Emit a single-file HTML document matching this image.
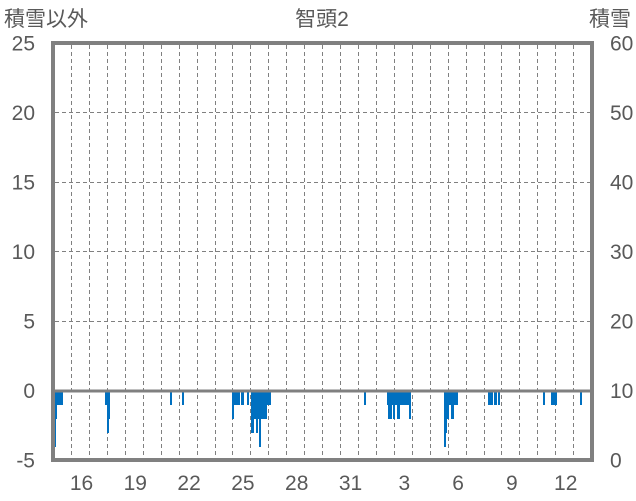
<!DOCTYPE html>
<html><head><meta charset="utf-8"><style>
html,body{margin:0;padding:0;background:#fff;}
svg{display:block;}
text{font-family:"Liberation Sans","Noto Sans CJK JP",sans-serif;fill:#595959;}
</style></head><body>
<svg width="636" height="501" viewBox="0 0 636 501" xmlns="http://www.w3.org/2000/svg">
<rect x="0" y="0" width="636" height="501" fill="#fff"/>
<g stroke="#808080" stroke-width="1" stroke-dasharray="4,3" fill="none">
<line x1="55" x2="590" y1="321.5" y2="321.5"/>
<line x1="55" x2="590" y1="251.5" y2="251.5"/>
<line x1="55" x2="590" y1="182.5" y2="182.5"/>
<line x1="55" x2="590" y1="112.5" y2="112.5"/>
</g>
<g stroke="#808080" stroke-width="1" stroke-dasharray="4,3" fill="none">
<line x1="71.5" x2="71.5" y1="45" y2="458"/>
<line x1="89.5" x2="89.5" y1="45" y2="458"/>
<line x1="107.5" x2="107.5" y1="45" y2="458"/>
<line x1="125.5" x2="125.5" y1="45" y2="458"/>
<line x1="143.5" x2="143.5" y1="45" y2="458"/>
<line x1="161.5" x2="161.5" y1="45" y2="458"/>
<line x1="179.5" x2="179.5" y1="45" y2="458"/>
<line x1="197.5" x2="197.5" y1="45" y2="458"/>
<line x1="215.5" x2="215.5" y1="45" y2="458"/>
<line x1="232.5" x2="232.5" y1="45" y2="458"/>
<line x1="250.5" x2="250.5" y1="45" y2="458"/>
<line x1="268.5" x2="268.5" y1="45" y2="458"/>
<line x1="286.5" x2="286.5" y1="45" y2="458"/>
<line x1="304.5" x2="304.5" y1="45" y2="458"/>
<line x1="322.5" x2="322.5" y1="45" y2="458"/>
<line x1="340.5" x2="340.5" y1="45" y2="458"/>
<line x1="358.5" x2="358.5" y1="45" y2="458"/>
<line x1="376.5" x2="376.5" y1="45" y2="458"/>
<line x1="394.5" x2="394.5" y1="45" y2="458"/>
<line x1="412.5" x2="412.5" y1="45" y2="458"/>
<line x1="430.5" x2="430.5" y1="45" y2="458"/>
<line x1="448.5" x2="448.5" y1="45" y2="458"/>
<line x1="466.5" x2="466.5" y1="45" y2="458"/>
<line x1="484.5" x2="484.5" y1="45" y2="458"/>
<line x1="501.5" x2="501.5" y1="45" y2="458"/>
<line x1="519.5" x2="519.5" y1="45" y2="458"/>
<line x1="537.5" x2="537.5" y1="45" y2="458"/>
<line x1="555.5" x2="555.5" y1="45" y2="458"/>
<line x1="573.5" x2="573.5" y1="45" y2="458"/>
</g>
<g fill="#0070C0">
<rect x="55" y="391" width="8" height="14"/>
<rect x="55" y="391" width="2" height="28"/>
<rect x="55" y="391" width="1" height="56"/>
<rect x="105" y="391" width="5" height="14"/>
<rect x="107" y="391" width="3" height="28"/>
<rect x="107" y="391" width="2" height="42"/>
<rect x="170" y="391" width="2" height="14"/>
<rect x="182" y="391" width="2" height="14"/>
<rect x="232" y="391" width="8" height="14"/>
<rect x="232" y="391" width="2" height="28"/>
<rect x="241" y="391" width="3" height="14"/>
<rect x="247" y="391" width="2" height="14"/>
<rect x="251" y="391" width="20" height="14"/>
<rect x="251" y="391" width="3" height="42"/>
<rect x="254" y="391" width="13" height="28"/>
<rect x="256" y="391" width="2" height="42"/>
<rect x="259" y="391" width="2" height="56"/>
<rect x="364" y="391" width="2" height="14"/>
<rect x="387" y="391" width="24" height="14"/>
<rect x="388" y="391" width="4" height="28"/>
<rect x="393" y="391" width="2" height="28"/>
<rect x="397" y="391" width="3" height="28"/>
<rect x="409" y="391" width="2" height="28"/>
<rect x="444" y="391" width="14" height="14"/>
<rect x="444" y="391" width="3" height="42"/>
<rect x="444" y="391" width="2" height="56"/>
<rect x="447" y="391" width="2" height="28"/>
<rect x="451" y="391" width="3" height="28"/>
<rect x="488" y="391" width="5" height="14"/>
<rect x="494" y="391" width="3" height="14"/>
<rect x="498" y="391" width="2" height="14"/>
<rect x="543" y="391" width="2" height="14"/>
<rect x="551" y="391" width="6" height="14"/>
<rect x="580" y="391" width="2" height="14"/>
</g>
<line x1="55" x2="590" y1="391" y2="391" stroke="#808080" stroke-width="3"/>
<rect x="53" y="43" width="539" height="417" fill="none" stroke="#808080" stroke-width="4"/>
<text x="4" y="26" font-size="21">積雪以外</text>
<text x="322" y="26" font-size="21" text-anchor="middle">智頭2</text>
<text x="631" y="26" font-size="21" text-anchor="end">積雪</text>
<g font-size="21" text-anchor="end">
<text x="35" y="50.5">25</text>
<text x="35" y="120">20</text>
<text x="35" y="189.5">15</text>
<text x="35" y="259">10</text>
<text x="35" y="328.5">5</text>
<text x="35" y="398">0</text>
<text x="35" y="467.5">-5</text>
</g>
<g font-size="21" text-anchor="start">
<text x="610" y="50.5">60</text>
<text x="610" y="120">50</text>
<text x="610" y="189.5">40</text>
<text x="610" y="259">30</text>
<text x="610" y="328.5">20</text>
<text x="610" y="398">10</text>
<text x="610" y="467.5">0</text>
</g>
<g font-size="21" text-anchor="middle">
<text x="81.5" y="490">16</text>
<text x="135.3" y="490">19</text>
<text x="189.1" y="490">22</text>
<text x="242.9" y="490">25</text>
<text x="296.7" y="490">28</text>
<text x="350.5" y="490">31</text>
<text x="404.3" y="490">3</text>
<text x="458.1" y="490">6</text>
<text x="511.9" y="490">9</text>
<text x="565.7" y="490">12</text>
</g>
</svg>
</body></html>
